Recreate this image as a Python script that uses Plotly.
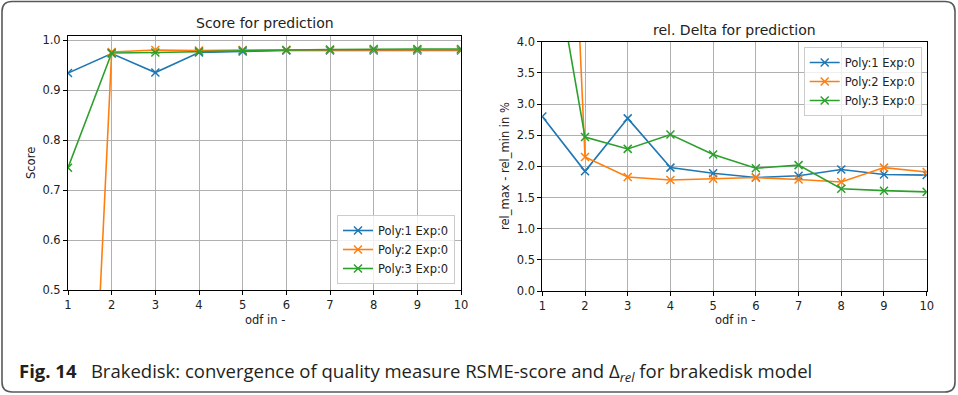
import plotly.graph_objects as go

# ---- data ----
odf = [1, 2, 3, 4, 5, 6, 7, 8, 9, 10]
series_names = ["Poly:1 Exp:0", "Poly:2 Exp:0", "Poly:3 Exp:0"]
score_poly1 = [0.934, 0.973, 0.935, 0.975, 0.977, 0.979, 0.979, 0.979, 0.979, 0.979]
score_poly2 = [-0.85, 0.976, 0.980, 0.979, 0.980, 0.980, 0.980, 0.980, 0.980, 0.980]
score_poly3 = [0.745, 0.974, 0.975, 0.977, 0.979, 0.980, 0.981, 0.982, 0.982, 0.982]
delta_poly1 = [2.80, 1.92, 2.77, 1.98, 1.89, 1.82, 1.85, 1.95, 1.87, 1.86]
delta_poly2 = [17.5, 2.15, 1.83, 1.78, 1.80, 1.82, 1.79, 1.75, 1.98, 1.91]
delta_poly3 = [6.4, 2.47, 2.28, 2.51, 2.19, 1.97, 2.02, 1.64, 1.61, 1.59]
score_ticks = [0.5, 0.6, 0.7, 0.8, 0.9, 1.0]
delta_ticks = [0.0, 0.5, 1.0, 1.5, 2.0, 2.5, 3.0, 3.5, 4.0]
colors = ["#1f77b4", "#ff7f0e", "#2ca02c"]

W, H = 958, 395
def px(x):
    return x / W
def py(y):
    return 1 - y / H

FONT = "DejaVu Sans"
fig = go.Figure()

for name, ys, c in zip(series_names, [score_poly1, score_poly2, score_poly3], colors):
    fig.add_trace(go.Scatter(x=odf, y=ys, name=name, mode="lines+markers",
                             line=dict(color=c, width=1.6),
                             marker=dict(symbol="x-thin", size=8, line=dict(color=c, width=1.5)),
                             xaxis="x", yaxis="y", legend="legend"))
for name, ys, c in zip(series_names, [delta_poly1, delta_poly2, delta_poly3], colors):
    fig.add_trace(go.Scatter(x=odf, y=ys, name=name, mode="lines+markers",
                             line=dict(color=c, width=1.6),
                             marker=dict(symbol="x-thin", size=8, line=dict(color=c, width=1.5)),
                             xaxis="x2", yaxis="y2", legend="legend2"))

axis_common = dict(showline=True, linecolor="black", linewidth=1, mirror=True,
                   showgrid=True, gridcolor="#b0b0b0", gridwidth=1,
                   ticks="outside", ticklen=4, tickcolor="black", automargin=False,
                   tickfont=dict(family=FONT, size=11.5, color="#222"), zeroline=False)

fig.update_layout(
    width=W, height=H, autosize=False,
    margin=dict(l=0, r=0, t=0, b=0, pad=0),
    paper_bgcolor="white", plot_bgcolor="white",
    xaxis=dict(domain=[px(68), px(461)], range=[1, 10], tickvals=odf, anchor="y", **axis_common),
    yaxis=dict(domain=[py(290.3), py(36)], range=[0.5, 1.008], tickvals=score_ticks,
               tickformat=".1f", anchor="x", **axis_common),
    xaxis2=dict(domain=[px(542.3), px(926.7)], range=[1, 10], tickvals=odf, anchor="y2", **axis_common),
    yaxis2=dict(domain=[py(291), py(41.7)], range=[0, 4], tickvals=delta_ticks,
                tickformat=".1f", anchor="x2", **axis_common),
    legend=dict(x=px(455), y=py(284), xanchor="right", yanchor="bottom",
                bgcolor="rgba(255,255,255,0.8)", bordercolor="#cccccc", borderwidth=1,
                font=dict(family=FONT, size=11.5, color="#222"), tracegroupgap=0),
    legend2=dict(x=px(921.7), y=py(47), xanchor="right", yanchor="top",
                 bgcolor="rgba(255,255,255,0.8)", bordercolor="#cccccc", borderwidth=1,
                 font=dict(family=FONT, size=11.5, color="#222"), tracegroupgap=0),
    showlegend=True,
)

ann_font = dict(family=FONT, size=14, color="#222")
lab_font = dict(family=FONT, size=11.5, color="#222")
annotations = [
    dict(text="Score for prediction", x=px(264.5), y=py(23), font=ann_font),
    dict(text="rel. Delta for prediction", x=px(734.5), y=py(30), font=ann_font),
    dict(text="odf in -", x=px(264.5), y=py(320), font=lab_font),
    dict(text="odf in -", x=px(734.5), y=py(320), font=lab_font),
    dict(text="Score", x=px(31), y=py(163), font=lab_font, textangle=-90),
    dict(text="rel_max - rel_min in %", x=px(505), y=py(166), font=lab_font, textangle=-90),
    dict(text="<b>Fig. 14</b>   Brakedisk: convergence of quality measure RSME-score and \u0394<sub><i>rel</i></sub> for brakedisk model",
         x=px(17), y=py(372), xanchor="left", font=dict(family="Open Sans", size=18.5, color="#231f20")),
]
for a in annotations:
    a.setdefault("xanchor", "center")
    a.update(xref="paper", yref="paper", showarrow=False, yanchor="middle")
fig.update_layout(annotations=annotations)

# rounded frame around the figure
x0, x1, y0, y1, r = 2, 955, 1.5, 392, 10
path = (f"M {px(x0 + r)},{py(y0)} L {px(x1 - r)},{py(y0)} Q {px(x1)},{py(y0)} {px(x1)},{py(y0 + r)} "
        f"L {px(x1)},{py(y1 - r)} Q {px(x1)},{py(y1)} {px(x1 - r)},{py(y1)} "
        f"L {px(x0 + r)},{py(y1)} Q {px(x0)},{py(y1)} {px(x0)},{py(y1 - r)} "
        f"L {px(x0)},{py(y0 + r)} Q {px(x0)},{py(y0)} {px(x0 + r)},{py(y0)} Z")
fig.add_shape(type="path", path=path, xref="paper", yref="paper",
              line=dict(color="#58595b", width=1.6), layer="below")

fig.write_html("out.html", post_script="document.body.style.margin='0';")
